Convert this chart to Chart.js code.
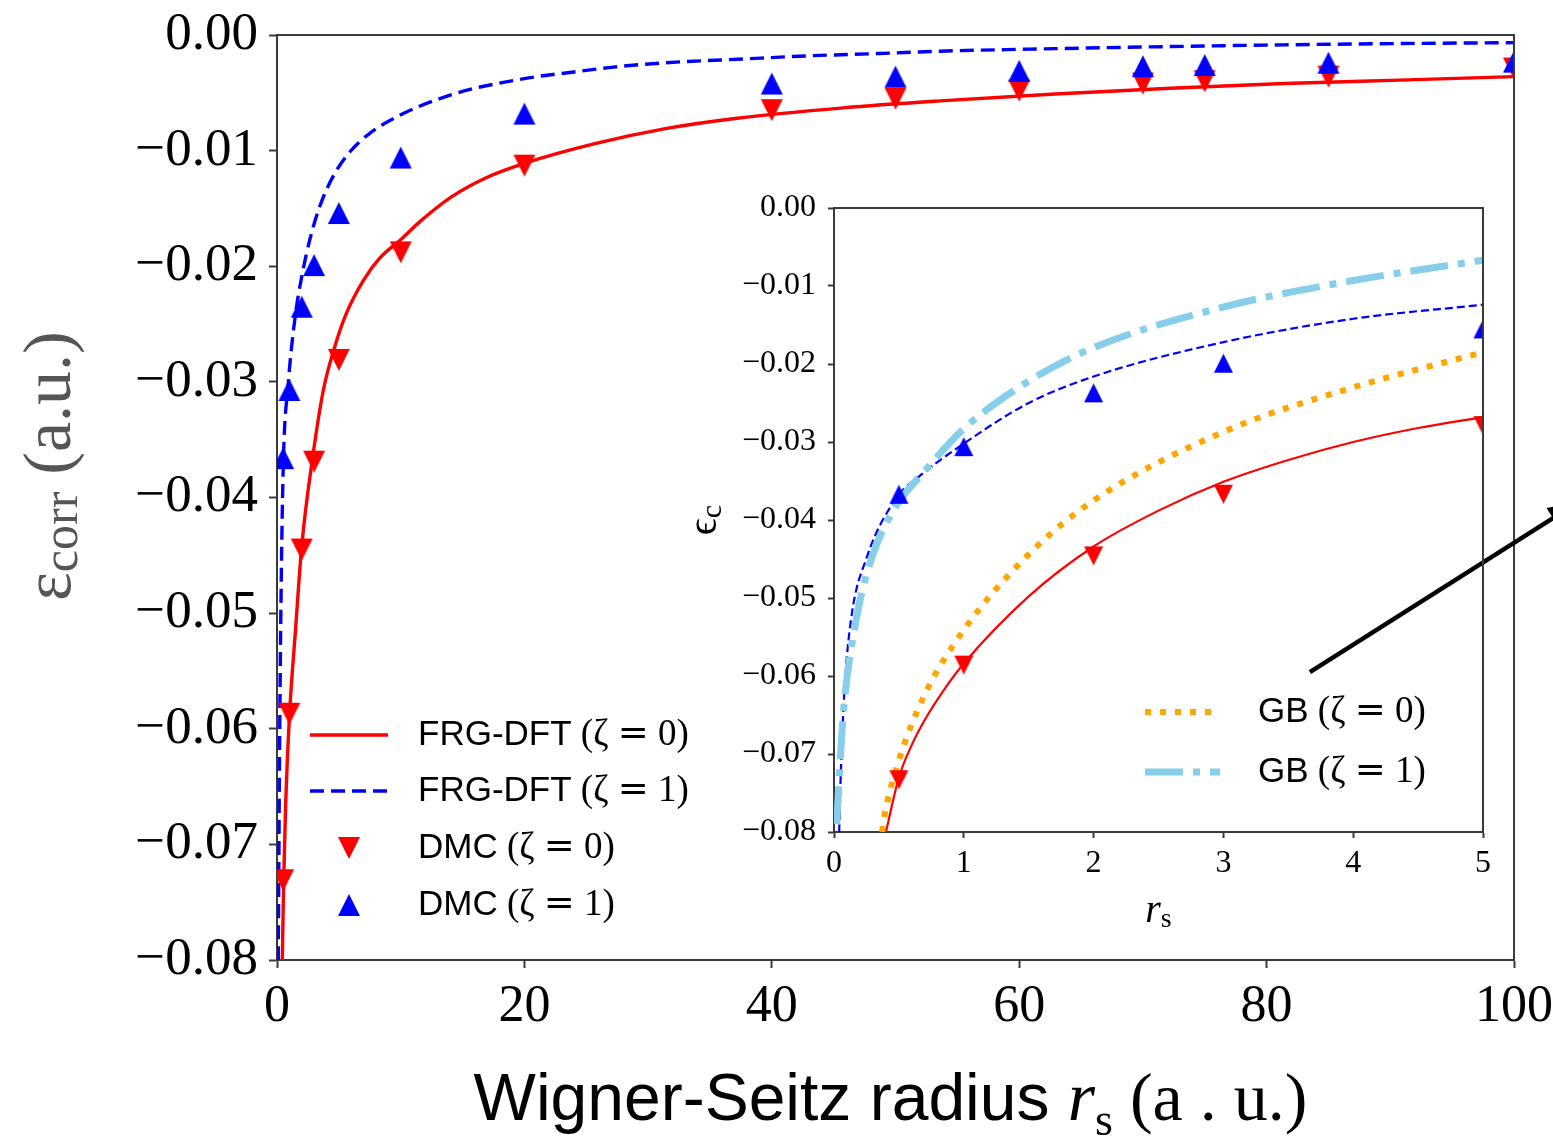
<!DOCTYPE html>
<html>
<head>
<meta charset="utf-8">
<title>Correlation energy vs Wigner-Seitz radius</title>
<script src="https://cdn.jsdelivr.net/npm/chart.js@4.4.0/dist/chart.umd.min.js"></script>
<style>
  html, body { margin: 0; padding: 0; background: #fff; }
  #wrap { position: relative; width: 1553px; height: 1139px; overflow: hidden; }
  #mainChart { position: absolute; left: 0; top: 0; }
  #insetChart { position: absolute; left: 680px; top: 180px; }
</style>
</head>
<body>
<div id="wrap">
  <canvas id="mainChart" width="1553" height="1139"></canvas>
  <canvas id="insetChart" width="873" height="760"></canvas>
</div>
<script>
// ---- main panel: FRG-DFT curves (rs, eps_corr in a.u.)
const mainRs0 = [0.43, 0.54, 0.7, 1.0, 1.5, 2.0, 2.9, 3.75, 4.6, 5.6, 7.0, 8.3, 10, 11.6, 14.1, 17, 20, 25.7, 31.4, 37.2, 45.8, 53.6, 62.9, 72.2, 81.4, 90.7, 100];
const mainFrg0 = [-0.0800, -0.0731, -0.0665, -0.0590, -0.0514, -0.0442, -0.0364, -0.0307, -0.0272, -0.0241, -0.0212, -0.0193, -0.0177, -0.0161, -0.0140, -0.0123, -0.0111, -0.0094, -0.0081, -0.0072, -0.0063, -0.0057, -0.0051, -0.0046, -0.0042, -0.0039, -0.0036];

const mainRs1 = [0.1, 0.2, 0.3, 0.5, 0.9, 1.5, 2.0, 2.7, 3.5, 4.6, 5.9, 7.5, 10, 12.9, 15.6, 18.3, 21, 24, 27, 31.4, 37.2, 43, 48.7, 53.6, 62.9, 72.2, 81.4, 90.7, 100];
const mainFrg1 = [-0.0800, -0.0630, -0.0510, -0.0375, -0.0303, -0.0241, -0.0209, -0.0175, -0.0147, -0.0121, -0.0101, -0.0085, -0.0069, -0.0056, -0.0047, -0.0041, -0.0036, -0.0032, -0.0028, -0.0024, -0.0021, -0.0018, -0.0016, -0.0014, -0.00118, -0.00100, -0.00085, -0.00074, -0.00066];

// ---- main panel: DMC reference points
const dmcRs = [0.5, 1, 2, 3, 5, 10, 20, 40, 50, 60, 70, 75, 85, 100];
const dmc0 = [-0.0731, -0.0587, -0.0445, -0.0369, -0.0281, -0.0188, -0.0113, -0.0065, -0.0055, -0.0048, -0.0042, -0.0040, -0.0036, -0.0029];
const dmc1 = [-0.0366, -0.0307, -0.0235, -0.0199, -0.0154, -0.0106, -0.0068, -0.0042, -0.0036, -0.0031, -0.0027, -0.0026, -0.0024, -0.0023];

// ---- inset: small rs
const insetRs0 = [0.40, 0.5, 0.6, 0.7, 0.85, 1.0, 1.5, 2.0, 2.5, 3.0, 3.5, 4.0, 4.5, 5.0];
const insetFrg0 = [-0.0800, -0.0730, -0.0688, -0.0656, -0.0617, -0.0584, -0.0498, -0.0434, -0.0388, -0.0351, -0.0323, -0.0300, -0.0282, -0.0268];

const insetRs1 = [0.04, 0.05, 0.08, 0.13, 0.25, 0.48, 0.65, 1.0, 1.5, 2.0, 3.0, 4.0, 5.0];
const insetFrg1 = [-0.0800, -0.0737, -0.0620, -0.0529, -0.0449, -0.0372, -0.0345, -0.0302, -0.0250, -0.0216, -0.0172, -0.0142, -0.0124];

const gbRs0 = [0.37, 0.39, 0.49, 0.69, 1.0, 1.5, 2.0, 3.0, 4.0, 5.0];
const gb0 = [-0.0800, -0.0778, -0.0713, -0.0627, -0.0541, -0.0444, -0.0375, -0.0287, -0.0230, -0.0185];

const gbRs1 = [0.02, 0.07, 0.17, 0.29, 0.48, 0.69, 1.0, 1.5, 2.0, 3.0, 4.0, 5.0];
const gb1 = [-0.0790, -0.0652, -0.0529, -0.0449, -0.0382, -0.0339, -0.0283, -0.0222, -0.0179, -0.0127, -0.0093, -0.0067];

const insetDmcRs = [0.5, 1, 2, 3, 5];
const insetDmc0 = [-0.0733, -0.0586, -0.0446, -0.0367, -0.0279];
const insetDmc1 = [-0.0367, -0.0306, -0.0237, -0.0199, -0.0155];

// arrow from the inset towards the right edge, in main-panel data units
const arrowTail = [83.5, -0.0551];
const arrowTip = [105.2, -0.0404];

const SERIF = '"Liberation Serif", "DejaVu Serif", serif';
const SANS = '"Liberation Sans", "DejaVu Sans", sans-serif';
const FRAME = '#3a3a3a';
const RED = '#ff0000';
const BLUE = '#0000ff';
const ORANGE = '#ffa500';
const SKY = '#87ceeb';

function pts(xs, ys) {
    return xs.map((x, i) => ({ x: x, y: ys[i] }));
}

// matplotlib-style triangle marker (centred on its bounding box)
function triangle(color, size, down) {
    const c = document.createElement('canvas');
    c.width = size + 2;
    c.height = size + 2;
    const g = c.getContext('2d');
    g.fillStyle = color;
    g.beginPath();
    if (down) {
        g.moveTo(1, 1); g.lineTo(size + 1, 1); g.lineTo(size / 2 + 1, size + 1);
    } else {
        g.moveTo(1, size + 1); g.lineTo(size + 1, size + 1); g.lineTo(size / 2 + 1, 1);
    }
    g.closePath();
    g.fill();
    return c;
}

// draw a row of text pieces with different fonts: [text, font, dy]
function drawRuns(ctx, runs, x, y, align) {
    let total = 0;
    runs.forEach(r => { ctx.font = r[1]; total += ctx.measureText(r[0]).width; });
    let cx = align === 'center' ? x - total / 2 : x;
    ctx.textAlign = 'left';
    runs.forEach(r => {
        ctx.font = r[1];
        ctx.fillText(r[0], cx, y + (r[2] || 0));
        cx += ctx.measureText(r[0]).width;
    });
}

function fmtEnergy(v) {
    if (Math.abs(v) < 1e-9) return '0.00';
    return (v < 0 ? '\u2212' : '') + Math.abs(v).toFixed(2);
}

function axis(min, max, step, fontSize, tickLen, pad, fmt, fit) {
    return {
        type: 'linear',
        min: min,
        max: max,
        ticks: { stepSize: step, color: '#000', padding: pad, font: { family: SERIF, size: fontSize }, callback: fmt, maxRotation: 0, autoSkip: false },
        grid: { drawOnChartArea: false, drawTicks: true, tickLength: tickLen, tickColor: FRAME, tickWidth: 2 },
        border: { display: true, color: FRAME, width: 2 },
        afterFit: fit
    };
}

// fixed axis sizes; tick labels may hang over the plot edges
function fitX(h) {
    return s => { s.height = h; s.paddingLeft = 0; s.paddingRight = 0; };
}
function fitY(w) {
    return s => { s.width = w; s.paddingTop = 0; s.paddingBottom = 0; };
}

// closes the box on the top and right sides
const frameBox = {
    id: 'frameBox',
    afterDatasetsDraw(chart) {
        const a = chart.chartArea;
        const ctx = chart.ctx;
        ctx.save();
        ctx.strokeStyle = FRAME;
        ctx.lineWidth = 2;
        ctx.beginPath();
        ctx.moveTo(a.left, a.top);
        ctx.lineTo(a.right, a.top);
        ctx.lineTo(a.right, a.bottom);
        ctx.stroke();
        ctx.restore();
    }
};

function drawSample(ctx, ds, x1, x2, y) {
    ctx.save();
    if (ds.showLine) {
        ctx.strokeStyle = ds.borderColor;
        ctx.lineWidth = ds.borderWidth;
        ctx.setLineDash(ds.borderDash || []);
        ctx.beginPath();
        ctx.moveTo(x1, y);
        ctx.lineTo(x2, y);
        ctx.stroke();
    } else {
        const img = ds.pointStyle;
        ctx.drawImage(img, (x1 + x2) / 2 - img.width / 2, y - img.height / 2);
    }
    ctx.restore();
}

// "FRG-DFT (ζ = 0)": name in sans, the math part in serif with a wide "="
function drawEntry(ctx, label, x, y, size) {
    const cut = label.indexOf(' (');
    const eq = label.indexOf(' = ');
    const serif = (size + 2) + 'px ' + SERIF;
    ctx.fillStyle = '#000';
    ctx.textBaseline = 'middle';
    drawRuns(ctx, [
        [label.slice(0, cut), size + 'px ' + SANS],
        [label.slice(cut, eq) + ' ', serif],
        ['=', (size + 2) + 'px "DejaVu Serif", serif'],
        [' ' + label.slice(eq + 3), serif]
    ], x, y, 'left');
}

const mainLegendRows = [225, 169, 112, 55];
const mainLegend = {
    id: 'mainLegend',
    afterDraw(chart) {
        const a = chart.chartArea;
        const ctx = chart.ctx;
        chart.data.datasets.forEach((ds, i) => {
            const y = a.bottom - mainLegendRows[i];
            drawSample(ctx, ds, a.left + 33, a.left + 111, y);
            ctx.save();
            drawEntry(ctx, ds.label, a.left + 141, y, 35);
            ctx.restore();
        });
    }
};

const mainTitles = {
    id: 'mainTitles',
    afterDraw(chart) {
        const a = chart.chartArea;
        const ctx = chart.ctx;
        ctx.save();
        ctx.fillStyle = '#000';
        ctx.textBaseline = 'alphabetic';
        drawRuns(ctx, [
            ['Wigner-Seitz radius ', '66px ' + SANS],
            ['r', 'italic 70px ' + SERIF],
            ['s', '46px ' + SERIF, 15],
            [' (a . u.)', '68px ' + SERIF]
        ], (a.left + a.right) / 2 - 5, 1120, 'center');
        ctx.translate(52, 466);
        ctx.rotate(-Math.PI / 2);
        ctx.fillStyle = '#555';
        ctx.textBaseline = 'middle';
        drawRuns(ctx, [
            ['\u03b5', '68px ' + SERIF],
            ['corr', '50px ' + SERIF, 12],
            [' (a.u.)', '68px ' + SERIF]
        ], 0, 0, 'center');
        ctx.restore();
    }
};

const arrowMark = {
    id: 'arrowMark',
    afterDraw(chart) {
        const xs = chart.scales.x;
        const ys = chart.scales.y;
        const x0 = xs.getPixelForValue(arrowTail[0]);
        const y0 = ys.getPixelForValue(arrowTail[1]);
        const x1 = xs.getPixelForValue(arrowTip[0]);
        const y1 = ys.getPixelForValue(arrowTip[1]);
        const ang = Math.atan2(y1 - y0, x1 - x0);
        const ctx = chart.ctx;
        ctx.save();
        ctx.strokeStyle = '#000';
        ctx.fillStyle = '#000';
        ctx.lineWidth = 4.5;
        ctx.beginPath();
        ctx.moveTo(x0, y0);
        ctx.lineTo(x1 - 20 * Math.cos(ang), y1 - 20 * Math.sin(ang));
        ctx.stroke();
        ctx.translate(x1, y1);
        ctx.rotate(ang);
        ctx.beginPath();
        ctx.moveTo(0, 0);
        ctx.lineTo(-30, -12);
        ctx.lineTo(-30, 12);
        ctx.closePath();
        ctx.fill();
        ctx.restore();
    }
};

new Chart(document.getElementById('mainChart'), {
    type: 'scatter',
    data: {
        datasets: [
            { label: 'FRG-DFT (\u03b6 = 0)', data: pts(mainRs0, mainFrg0), showLine: true, borderColor: RED, borderWidth: 3.4, pointRadius: 0, cubicInterpolationMode: 'monotone', clip: 0, order: 3 },
            { label: 'FRG-DFT (\u03b6 = 1)', data: pts(mainRs1, mainFrg1), showLine: true, borderColor: BLUE, borderWidth: 3.4, borderDash: [14, 7], pointRadius: 0, cubicInterpolationMode: 'monotone', clip: 0, order: 2 },
            { label: 'DMC (\u03b6 = 0)', data: pts(dmcRs, dmc0), showLine: false, pointStyle: triangle(RED, 22, true), pointRadius: 11, clip: 0, order: 1 },
            { label: 'DMC (\u03b6 = 1)', data: pts(dmcRs, dmc1), showLine: false, pointStyle: triangle(BLUE, 22, false), pointRadius: 11, clip: 0, order: 0 }
        ]
    },
    options: {
        responsive: false,
        animation: false,
        events: [],
        layout: { padding: { top: 35, right: 39, left: 0, bottom: 0 } },
        plugins: { legend: { display: false }, tooltip: { enabled: false } },
        scales: {
            x: axis(0, 100, 20, 52, 8, 8, v => String(v), fitX(179)),
            y: axis(-0.08, 0, 0.01, 53, 8, 11, fmtEnergy, fitY(277))
        }
    },
    plugins: [frameBox, mainLegend, mainTitles, arrowMark]
});

// ---- inset
const insetLegendRows = [120, 60];
const insetLegend = {
    id: 'insetLegend',
    afterDraw(chart) {
        const a = chart.chartArea;
        const ctx = chart.ctx;
        chart.data.datasets.filter(ds => ds.inLegend).forEach((ds, i) => {
            const y = a.bottom - insetLegendRows[i];
            drawSample(ctx, ds, a.right - 338, a.right - 263, y);
            ctx.save();
            drawEntry(ctx, ds.label, a.right - 225, y, 35);
            ctx.restore();
        });
    }
};

const insetTitles = {
    id: 'insetTitles',
    afterDraw(chart) {
        const a = chart.chartArea;
        const ctx = chart.ctx;
        ctx.save();
        ctx.fillStyle = '#000';
        ctx.textBaseline = 'middle';
        drawRuns(ctx, [
            ['r', 'italic 40px ' + SERIF],
            ['s', '28px ' + SERIF, 9]
        ], (a.left + a.right) / 2, 731, 'center');
        ctx.translate(25, 340);
        ctx.rotate(-Math.PI / 2);
        drawRuns(ctx, [
            ['\u03f5', '42px ' + SERIF],
            ['c', '30px ' + SERIF, 8]
        ], 0, 0, 'center');
        ctx.restore();
    }
};

new Chart(document.getElementById('insetChart'), {
    type: 'scatter',
    data: {
        datasets: [
            { label: 'GB (\u03b6 = 0)', inLegend: true, data: pts(gbRs0, gb0), showLine: true, borderColor: ORANGE, borderWidth: 6, borderDash: [6, 9], pointRadius: 0, cubicInterpolationMode: 'monotone', clip: 0, order: 2 },
            { label: 'GB (\u03b6 = 1)', inLegend: true, data: pts(gbRs1, gb1), showLine: true, borderColor: SKY, borderWidth: 7, borderDash: [38, 10, 7, 10], pointRadius: 0, cubicInterpolationMode: 'monotone', clip: 0, order: 1 },
            { label: 'FRG-DFT (\u03b6 = 0)', data: pts(insetRs0, insetFrg0), showLine: true, borderColor: RED, borderWidth: 2.2, pointRadius: 0, cubicInterpolationMode: 'monotone', clip: 0, order: 4 },
            { label: 'FRG-DFT (\u03b6 = 1)', data: pts(insetRs1, insetFrg1), showLine: true, borderColor: BLUE, borderWidth: 2.2, borderDash: [8, 4], pointRadius: 0, cubicInterpolationMode: 'monotone', clip: 0, order: 3 },
            { label: 'DMC (\u03b6 = 0)', data: pts(insetDmcRs, insetDmc0), showLine: false, pointStyle: triangle(RED, 19, true), pointRadius: 10, clip: 0, order: 0 },
            { label: 'DMC (\u03b6 = 1)', data: pts(insetDmcRs, insetDmc1), showLine: false, pointStyle: triangle(BLUE, 19, false), pointRadius: 10, clip: 0, order: 0 }
        ]
    },
    options: {
        responsive: false,
        animation: false,
        events: [],
        layout: { padding: { top: 28, right: 70, left: 0, bottom: 0 } },
        plugins: { legend: { display: false }, tooltip: { enabled: false } },
        scales: {
            x: axis(0, 5, 1, 32, 6, 6, v => String(v), fitX(108)),
            y: axis(-0.08, 0, 0.01, 32, 6, 12, fmtEnergy, fitY(154))
        }
    },
    plugins: [frameBox, insetLegend, insetTitles]
});
</script>
</body>
</html>
